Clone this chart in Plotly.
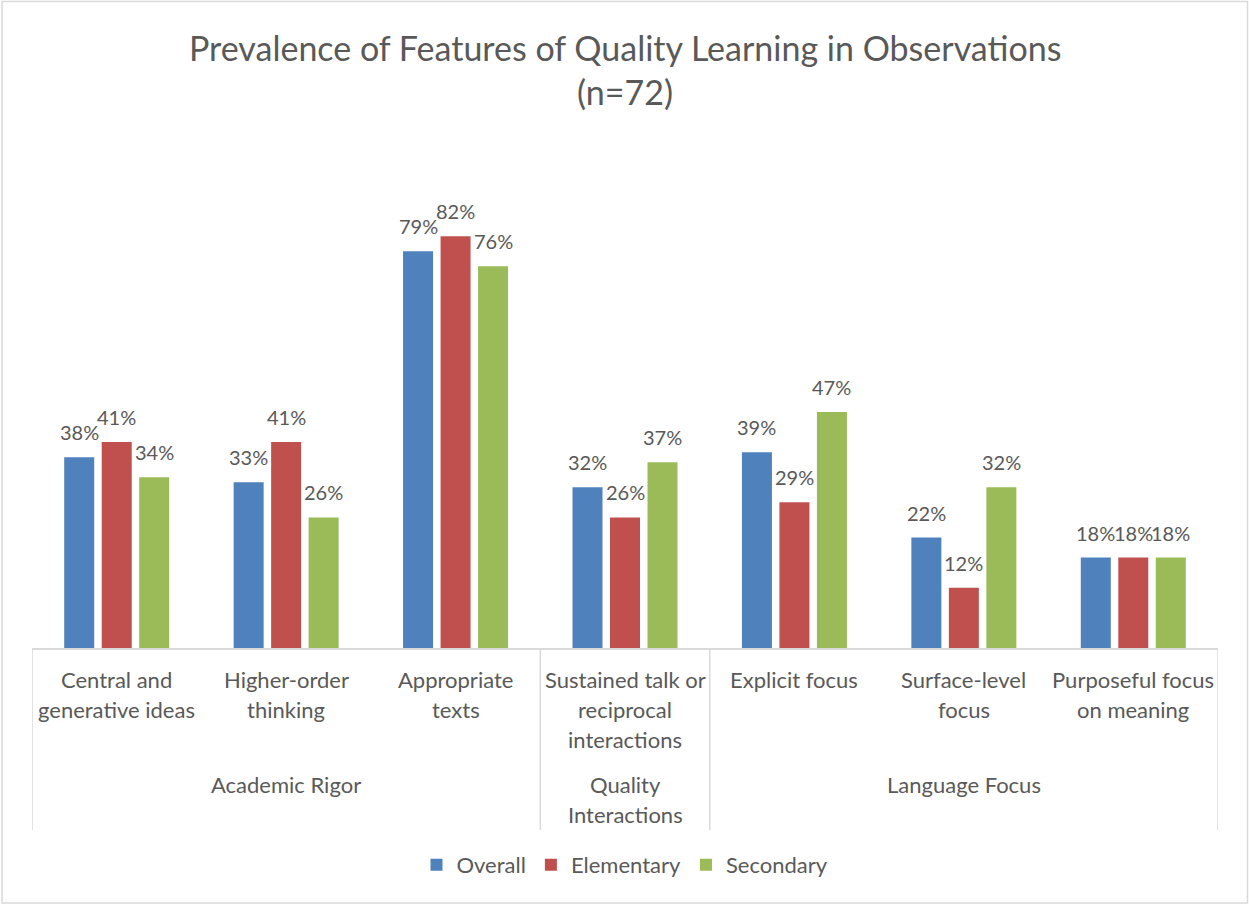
import plotly.graph_objects as go

categories = ["Central and<br>generative ideas", "Higher-order<br>thinking", "Appropriate<br>texts",
              "Sustained talk or<br>reciprocal<br>interactions", "Explicit focus",
              "Surface-level<br>focus", "Purposeful focus<br>on meaning"]
groups = ["Academic Rigor", "Quality<br>Interactions", "Language Focus"]
group_spans = [(0, 2), (3, 3), (4, 6)]
series_names = ["Overall", "Elementary", "Secondary"]
overall = [0.38, 0.33, 0.79, 0.32, 0.39, 0.22, 0.18]
elementary = [0.41, 0.41, 0.82, 0.26, 0.29, 0.12, 0.18]
secondary = [0.34, 0.26, 0.76, 0.37, 0.47, 0.32, 0.18]
colors = ["#4F81BD", "#C0504D", "#9BBB59"]

FONT = "Lato"
TXT = "#595959"
OFF = 0
W, H = 1249, 904
L, T = 32, 196
R = W - 1218
B = H - 648
PW, PH = W - L - R, H - T - B
SLOT_PX = PW / len(categories)
BARGAP = 0.336
BARGROUPGAP = 0.2
TRACE_SLOT = SLOT_PX * (1 - BARGAP) / len(series_names)

def px_x(px):
    return (px - OFF - L) / PW

def px_y(py):
    return (H - B - (py - OFF)) / PH

fig = go.Figure()
annotations = []
all_vals = [overall, elementary, secondary]
for k, (name, vals, col) in enumerate(zip(series_names, all_vals, colors)):
    fig.add_trace(go.Bar(
        x=list(range(len(categories))), y=vals, name=name,
        marker=dict(color=col, line=dict(width=0)),
    ))
    shift = (k - (len(series_names) - 1) / 2) * TRACE_SLOT
    for i, v in enumerate(vals):
        annotations.append(dict(text=f"{round(v*100)}%", x=i, xref="x", y=v, yref="y",
                                xshift=shift, yshift=11, showarrow=False,
                                font=dict(family=FONT, size=20, color=TXT),
                                xanchor="center", yanchor="bottom"))

annotations.append(dict(text="Prevalence of Features of Quality Learning in Observations", x=0.5, xref="paper",
                        y=px_y(47), yref="paper", showarrow=False,
                        font=dict(family=FONT, size=34, color=TXT), xanchor="center", yanchor="middle"))
annotations.append(dict(text="(n=72)", x=0.5, xref="paper",
                        y=px_y(91), yref="paper", showarrow=False,
                        font=dict(family=FONT, size=34, color=TXT), xanchor="center", yanchor="middle"))
for i, c in enumerate(categories):
    for j, line in enumerate(c.split("<br>")):
        annotations.append(dict(text=line, x=i, xref="x", y=px_y(679 + 30 * j), yref="paper",
                                showarrow=False, font=dict(family=FONT, size=22, color=TXT),
                                xanchor="center", yanchor="middle"))
for g, (a, b) in zip(groups, group_spans):
    for j, line in enumerate(g.split("<br>")):
        annotations.append(dict(text=line, x=(a + b) / 2, xref="x", y=px_y(784 + 30 * j), yref="paper",
                                showarrow=False, font=dict(family=FONT, size=22, color=TXT),
                                xanchor="center", yanchor="middle"))

shapes = []
for xb in [-0.5, 2.5, 3.5, 6.5]:
    shapes.append(dict(type="line", xref="x", yref="paper", x0=xb, x1=xb, y0=0, y1=px_y(830),
                       line=dict(color="#D9D9D9", width=1.5)))
shapes.append(dict(type="rect", xref="paper", yref="paper", x0=px_x(2), x1=px_x(1247.5), y0=px_y(903), y1=px_y(1.5),
                   line=dict(color="#D9D9D9", width=1.5), fillcolor="rgba(0,0,0,0)", layer="below"))

fig.update_layout(
    width=W, height=H, margin=dict(l=L, r=R, t=T, b=B),
    paper_bgcolor="white", plot_bgcolor="white",
    barmode="group", bargap=BARGAP, bargroupgap=BARGROUPGAP,
    xaxis=dict(range=[-0.5, 6.5], showticklabels=False, showgrid=False, zeroline=False,
               showline=True, linecolor="#D9D9D9", linewidth=1.5, ticks=""),
    yaxis=dict(range=[0, 0.9], visible=False, showgrid=False, zeroline=False),
    showlegend=True,
    legend=dict(orientation="h", x=0.5, xanchor="center", y=px_y(865), yanchor="middle",
                font=dict(family=FONT, size=22, color=TXT), itemwidth=30, traceorder="normal"),
    annotations=annotations, shapes=shapes,
    font=dict(family=FONT, color=TXT),
)

fig.write_html("out.html", config={"displayModeBar": False},
               post_script="document.body.style.margin='0';document.body.style.overflow='hidden';")
